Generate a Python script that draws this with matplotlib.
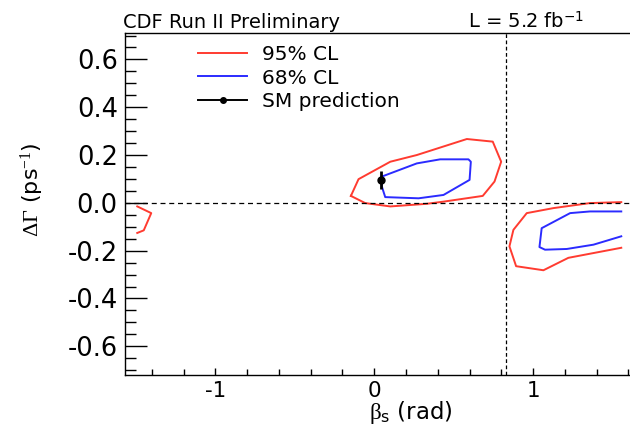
import matplotlib
matplotlib.use('Agg')
import matplotlib.pyplot as plt
from matplotlib.lines import Line2D
from matplotlib.ticker import MultipleLocator, FormatStrFormatter, FuncFormatter
import numpy as np

plt.rcParams['font.family'] = ['DejaVu Sans']
plt.rcParams['axes.unicode_minus'] = False
plt.rcParams['mathtext.fontset'] = 'custom'
plt.rcParams['mathtext.rm'] = 'Liberation Serif'
plt.rcParams['mathtext.it'] = 'Liberation Serif:italic'
plt.rcParams['mathtext.sf'] = 'DejaVu Sans'

# 95% CL contour, main island (closed)
red_main_beta = [-0.147, -0.099, 0.101, 0.268, 0.583, 0.746, 0.799, 0.757, 0.683,
                 0.436, 0.331, 0.101, -0.057, -0.147]
red_main_dg = [0.029, 0.099, 0.172, 0.200, 0.267, 0.256, 0.172, 0.089, 0.029,
               0.005, -0.004, -0.015, -0.001, 0.029]

# 68% CL contour, main island (closed)
blue_main_beta = [0.048, 0.268, 0.415, 0.593, 0.608, 0.600, 0.436, 0.279, 0.069, 0.048, 0.048]
blue_main_dg = [0.110, 0.165, 0.182, 0.182, 0.172, 0.096, 0.033, 0.019, 0.024, 0.068, 0.110]

# 95% CL contour, mirror island running off the right edge
red_right_beta = [1.555, 1.358, 1.128, 0.960, 0.876, 0.851, 0.893, 1.065, 1.222, 1.555]
red_right_dg = [0.003, -0.001, -0.022, -0.043, -0.113, -0.182, -0.265, -0.282, -0.230, -0.188]

# 68% CL contour, mirror island
blue_right_beta = [1.555, 1.358, 1.233, 1.054, 1.040, 1.075, 1.212, 1.380, 1.555]
blue_right_dg = [-0.036, -0.036, -0.043, -0.106, -0.185, -0.196, -0.193, -0.175, -0.140]

# 95% CL sliver near the left edge
red_left_beta = [-1.492, -1.404, -1.451, -1.492]
red_left_dg = [-0.015, -0.043, -0.115, -0.126]

# Standard Model prediction
sm_beta = 0.04
sm_dg = 0.096
sm_err = 0.039

red = '#ff3b30'
blue = '#2b2bff'

fig = plt.figure(figsize=(6.3, 4.3), dpi=100)
ax = fig.add_axes([0.198, 0.128, 0.802, 0.795])

ax.plot(red_main_beta, red_main_dg, color=red, lw=1.4)
ax.plot(red_right_beta, red_right_dg, color=red, lw=1.4)
ax.plot(red_left_beta, red_left_dg, color=red, lw=1.4)
ax.plot(blue_main_beta, blue_main_dg, color=blue, lw=1.4)
ax.plot(blue_right_beta, blue_right_dg, color=blue, lw=1.4)

ax.axhline(0, color='k', ls=(0, (4, 3)), lw=0.9)
ax.axvline(0.83, color='k', ls=(0, (3, 2)), lw=0.9)

ax.errorbar([sm_beta], [sm_dg], yerr=[sm_err], fmt='o', color='k', ms=5,
            elinewidth=2, capsize=0, zorder=5)

ax.set_xlim(-np.pi / 2, 1.61)
ax.set_ylim(-0.72, 0.71)

ax.xaxis.set_major_locator(MultipleLocator(1))
ax.xaxis.set_minor_locator(MultipleLocator(0.2))
ax.yaxis.set_major_locator(MultipleLocator(0.2))
ax.yaxis.set_minor_locator(MultipleLocator(0.05))
ax.yaxis.set_major_formatter(FormatStrFormatter('%.1f'))
ax.xaxis.set_major_formatter(FuncFormatter(lambda v, p: '%d' % round(v)))

ax.tick_params(axis='x', which='major', direction='in', length=5, width=1, labelsize=15.5, pad=4)
ax.tick_params(axis='x', which='minor', direction='in', length=4, width=1)
ax.tick_params(axis='y', which='major', direction='in', length=16, width=1, labelsize=18.5, pad=5)
ax.tick_params(axis='y', which='minor', direction='in', length=8, width=1)
ax.spines['right'].set_visible(False)
for s in ['left', 'bottom', 'top']:
    ax.spines[s].set_linewidth(1.0)

ax.set_xlabel(r'$\mathrm{\beta}_{\mathsf{s}}$ (rad)', fontsize=16.5, va='center')
ax.xaxis.set_label_coords(0.567, -0.11)
ax.set_ylabel(r'$\Delta\Gamma$ (ps$^{-1}$)', fontsize=16, va='center')
ax.yaxis.set_label_coords(-0.183, 0.541)

fig.text(0.196, 0.936, 'CDF Run II Preliminary', fontsize=14, ha='left', va='baseline')
fig.text(0.743, 0.936, r'L = 5.2 fb$^{\mathsf{-1}}$', fontsize=14, ha='left', va='baseline')

handles = [Line2D([0], [0], color=red, lw=1.4),
           Line2D([0], [0], color=blue, lw=1.4),
           Line2D([0], [0], color='k', lw=1.4, marker='o', ms=4)]
ax.legend(handles, ['95% CL', '68% CL', 'SM prediction'], loc='upper left',
          bbox_to_anchor=(0.11, 1.018), frameon=False, fontsize=14.5,
          handlelength=2.4, handletextpad=0.75, labelspacing=0.22, numpoints=1)

fig.savefig('out.png', dpi=100)
